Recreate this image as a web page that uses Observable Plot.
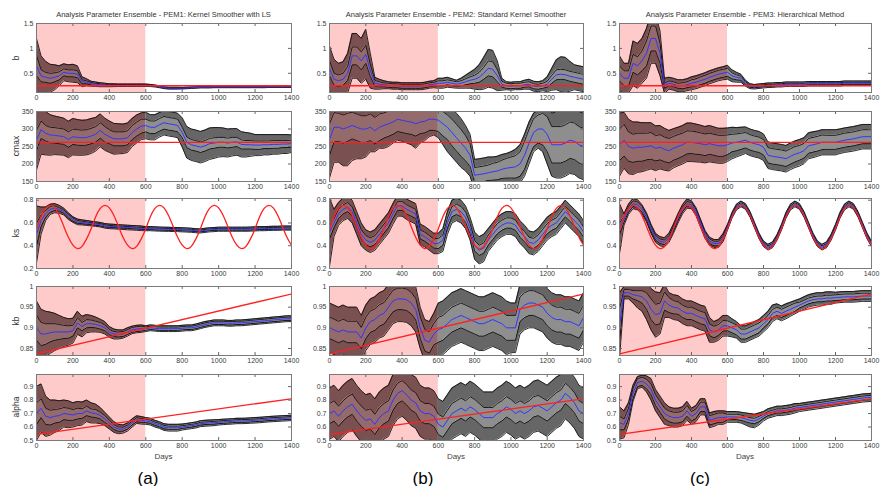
<!DOCTYPE html>
<html><head><meta charset="utf-8">
<script src="https://cdn.jsdelivr.net/npm/d3@7"></script>
<script src="https://cdn.jsdelivr.net/npm/@observablehq/plot@0.6"></script>
<style>
body{margin:0;background:#fff;}
#fig{position:relative;width:880px;height:486px;overflow:hidden;font-family:"Liberation Sans",Arial,sans-serif;}
.t{position:absolute;white-space:nowrap;line-height:1;}
.p{position:absolute;}
</style></head><body><div id="fig"></div>
<script>
// ---------- shared x grid (days) ----------
const days = [0,25,50,75,100,125,150,175,200,225,250,275,300,325,350,375,400,425,450,475,500,525,550,575,600,625,650,675,700,725,750,775,800,825,850,875,900,925,950,975,1000,1025,1050,1075,1100,1125,1150,1175,1200,1225,1250,1275,1300,1325,1350,1375,1400];
const xTicks = [0,200,400,600,800,1000,1200,1400];
const trainWindow = [0, 600];

// ---------- truth (red) ----------
const lineDays = [0, 1400];
const b_truth = [0.25, 0.25];
const cmax_truth = [262, 262];
const kb_truth = [0.837, 0.982];
const alpha_truth = [0.545, 0.81];
const ks_truth = [0.55,0.655,0.728,0.755,0.733,0.665,0.57,0.475,
 0.405,0.375,0.395,0.46,0.55,0.655,0.728,0.755,
 0.733,0.665,0.57,0.475,0.405,0.375,0.395,0.46,
 0.55,0.655,0.728,0.755,0.733,0.665,0.57,0.475,
 0.405,0.375,0.395,0.46,0.55,0.655,0.728,0.755,
 0.733,0.665,0.57,0.475,0.405,0.375,0.395,0.46,
 0.55,0.655,0.728,0.755,0.733,0.665,0.57,0.475,
 0.405];

// ---------- PEM1 ----------
const pem1_b_mean = [0.65,0.45,0.42,0.40,0.42,0.45,0.52,0.50,
 0.50,0.48,0.33,0.32,0.29,0.28,0.27,0.265,
 0.26,0.26,0.26,0.26,0.26,0.26,0.26,0.26,
 0.26,0.255,0.245,0.23,0.21,0.20,0.20,0.20,
 0.20,0.205,0.21,0.215,0.22,0.22,0.22,0.225,
 0.225,0.225,0.225,0.225,0.225,0.225,0.225,0.225,
 0.225,0.225,0.225,0.23,0.23,0.23,0.23,0.23,
 0.23];
const pem1_b_inner = [0.20,0.12,0.10,0.10,0.09,0.08,0.07,0.07,
 0.07,0.07,0.04,0.03,0.025,0.02,0.02,0.015,
 0.012,0.012,0.012,0.012,0.012,0.012,0.012,0.012,
 0.01,0.01,0.008,0.008,0.008,0.008,0.008,0.008,
 0.006,0.006,0.006,0.006,0.006,0.006,0.006,0.006,
 0.006,0.006,0.006,0.006,0.006,0.006,0.006,0.006,
 0.006,0.006,0.006,0.006,0.006,0.006,0.006,0.006,
 0.006];
const pem1_b_outer = [0.55,0.40,0.32,0.28,0.25,0.20,0.17,0.17,
 0.18,0.17,0.10,0.07,0.05,0.045,0.04,0.035,
 0.03,0.028,0.025,0.025,0.025,0.025,0.025,0.025,
 0.025,0.022,0.02,0.02,0.018,0.018,0.018,0.018,
 0.015,0.015,0.015,0.015,0.015,0.015,0.015,0.015,
 0.015,0.015,0.015,0.015,0.015,0.015,0.015,0.015,
 0.015,0.015,0.015,0.015,0.015,0.015,0.015,0.015,
 0.015];

const pem1_cmax_mean = [268,298,288,283,282,280,278,270,
 278,276,275,276,280,285,296,285,
 278,272,272,272,275,290,300,308,
 310,305,305,312,318,315,313,310,
 290,262,255,252,248,252,258,260,
 262,262,260,262,263,256,255,255,
 254,254,255,255,256,256,257,257,
 258];
const pem1_cmax_inner = [28,25,22,22,22,22,22,22,
 22,22,22,22,22,22,22,22,
 20,20,20,20,20,20,20,20,
 18,18,18,18,18,18,18,18,
 15,15,15,15,15,15,15,15,
 14,14,14,14,13,13,12,12,
 12,12,11,11,11,11,10,10,
 10];
const pem1_cmax_outer = [85,70,62,58,55,54,53,52,
 52,51,50,50,50,48,47,46,
 45,44,43,42,42,40,40,38,
 38,36,36,35,35,35,35,35,
 42,45,45,45,45,45,45,44,
 42,41,40,39,38,36,35,33,
 30,30,29,29,28,28,27,27,
 25];

const pem1_ks_mean = [0.50,0.62,0.68,0.72,0.73,0.72,0.70,0.66,
 0.63,0.61,0.605,0.60,0.595,0.59,0.585,0.575,
 0.57,0.568,0.565,0.563,0.56,0.558,0.556,0.553,
 0.55,0.55,0.548,0.546,0.545,0.544,0.543,0.542,
 0.54,0.538,0.536,0.532,0.53,0.535,0.54,0.542,
 0.545,0.545,0.545,0.545,0.545,0.545,0.545,0.546,
 0.548,0.55,0.55,0.552,0.553,0.553,0.555,0.555,
 0.555];
const pem1_ks_inner = [0.10,0.05,0.03,0.025,0.02,0.015,0.015,0.015,
 0.015,0.012,0.012,0.01,0.01,0.01,0.01,0.01,
 0.008,0.008,0.008,0.008,0.008,0.008,0.008,0.008,
 0.008,0.008,0.008,0.008,0.008,0.008,0.008,0.008,
 0.008,0.008,0.008,0.008,0.008,0.008,0.008,0.008,
 0.008,0.008,0.008,0.008,0.008,0.008,0.008,0.008,
 0.008,0.008,0.008,0.008,0.008,0.008,0.008,0.008,
 0.008];
const pem1_ks_outer = [0.25,0.12,0.06,0.045,0.04,0.035,0.03,0.03,
 0.025,0.025,0.022,0.022,0.02,0.02,0.02,0.02,
 0.02,0.02,0.02,0.02,0.02,0.02,0.02,0.02,
 0.018,0.018,0.018,0.018,0.018,0.018,0.018,0.018,
 0.018,0.018,0.018,0.018,0.018,0.018,0.018,0.018,
 0.018,0.018,0.018,0.018,0.018,0.018,0.018,0.018,
 0.018,0.018,0.018,0.018,0.018,0.018,0.018,0.018,
 0.018];

const pem1_kb_mean = [0.90,0.885,0.885,0.888,0.89,0.89,0.89,0.89,
 0.893,0.912,0.903,0.91,0.91,0.908,0.905,0.90,
 0.89,0.885,0.884,0.885,0.89,0.895,0.897,0.898,
 0.898,0.90,0.899,0.898,0.898,0.898,0.898,0.898,
 0.899,0.90,0.90,0.902,0.905,0.908,0.91,0.912,
 0.912,0.912,0.911,0.911,0.912,0.912,0.913,0.914,
 0.915,0.916,0.917,0.918,0.919,0.92,0.921,0.922,
 0.922];
const pem1_kb_inner = [0.03,0.028,0.025,0.022,0.02,0.018,0.016,0.015,
 0.013,0.012,0.01,0.01,0.009,0.008,0.008,0.007,
 0.006,0.006,0.006,0.006,0.006,0.006,0.006,0.006,
 0.004,0.004,0.004,0.004,0.004,0.004,0.004,0.004,
 0.004,0.004,0.004,0.004,0.004,0.004,0.004,0.004,
 0.004,0.004,0.004,0.004,0.004,0.004,0.004,0.004,
 0.004,0.004,0.004,0.004,0.004,0.004,0.004,0.004,
 0.004];
const pem1_kb_outer = [0.065,0.06,0.055,0.05,0.045,0.04,0.035,0.032,
 0.03,0.028,0.025,0.022,0.02,0.018,0.016,0.015,
 0.013,0.012,0.011,0.01,0.01,0.009,0.009,0.009,
 0.007,0.007,0.007,0.007,0.007,0.007,0.007,0.007,
 0.007,0.007,0.007,0.007,0.007,0.007,0.007,0.007,
 0.007,0.007,0.007,0.007,0.007,0.007,0.007,0.007,
 0.007,0.007,0.007,0.007,0.007,0.007,0.007,0.007,
 0.007];

const pem1_alpha_mean = [0.70,0.74,0.68,0.67,0.68,0.685,0.70,0.695,
 0.69,0.70,0.70,0.72,0.705,0.70,0.685,0.66,
 0.63,0.60,0.585,0.585,0.60,0.63,0.655,0.65,
 0.645,0.64,0.625,0.615,0.60,0.595,0.595,0.595,
 0.60,0.605,0.61,0.615,0.625,0.628,0.63,0.632,
 0.635,0.638,0.64,0.642,0.645,0.645,0.646,0.648,
 0.65,0.652,0.655,0.658,0.66,0.662,0.664,0.666,
 0.668];
const pem1_alpha_inner = [0.08,0.07,0.06,0.055,0.05,0.05,0.045,0.045,
 0.04,0.04,0.035,0.035,0.03,0.03,0.025,0.025,
 0.02,0.018,0.016,0.015,0.015,0.015,0.015,0.015,
 0.012,0.012,0.012,0.012,0.012,0.012,0.012,0.012,
 0.01,0.01,0.01,0.01,0.01,0.01,0.01,0.01,
 0.01,0.01,0.01,0.01,0.01,0.01,0.01,0.01,
 0.01,0.01,0.01,0.01,0.01,0.01,0.01,0.01,
 0.01];
const pem1_alpha_outer = [0.20,0.18,0.15,0.13,0.12,0.11,0.10,0.10,
 0.09,0.09,0.085,0.08,0.075,0.07,0.06,0.05,
 0.045,0.04,0.035,0.03,0.03,0.03,0.028,0.028,
 0.025,0.025,0.025,0.025,0.025,0.025,0.025,0.025,
 0.022,0.022,0.022,0.022,0.022,0.022,0.022,0.022,
 0.02,0.02,0.02,0.02,0.02,0.02,0.02,0.02,
 0.02,0.02,0.02,0.02,0.02,0.02,0.02,0.02,
 0.02];

// ---------- PEM2 ----------
const pem2_b_mean = [0.60,0.38,0.35,0.38,0.50,0.85,0.85,0.75,
 0.88,0.55,0.30,0.28,0.27,0.26,0.25,0.25,
 0.24,0.24,0.24,0.24,0.24,0.25,0.27,0.28,
 0.30,0.30,0.32,0.30,0.28,0.30,0.33,0.36,
 0.38,0.42,0.50,0.60,0.58,0.45,0.28,0.25,
 0.24,0.25,0.25,0.27,0.28,0.24,0.23,0.25,
 0.28,0.38,0.47,0.48,0.47,0.44,0.42,0.40,
 0.38];
const pem2_b_inner = [0.15,0.12,0.12,0.12,0.14,0.18,0.18,0.18,
 0.18,0.12,0.06,0.05,0.04,0.04,0.04,0.04,
 0.04,0.04,0.04,0.04,0.04,0.04,0.04,0.04,
 0.05,0.05,0.05,0.05,0.05,0.05,0.06,0.07,
 0.08,0.10,0.12,0.15,0.15,0.12,0.06,0.05,
 0.05,0.05,0.05,0.05,0.05,0.05,0.05,0.05,
 0.06,0.08,0.10,0.10,0.10,0.10,0.10,0.10,
 0.10];
const pem2_b_outer = [0.45,0.40,0.35,0.35,0.40,0.45,0.45,0.45,
 0.50,0.35,0.12,0.10,0.08,0.07,0.07,0.07,
 0.07,0.07,0.07,0.07,0.07,0.07,0.07,0.07,
 0.10,0.10,0.10,0.09,0.08,0.10,0.13,0.16,
 0.20,0.25,0.32,0.38,0.38,0.30,0.12,0.08,
 0.08,0.08,0.08,0.09,0.10,0.10,0.10,0.10,
 0.15,0.22,0.30,0.35,0.35,0.30,0.25,0.25,
 0.25];

const pem2_cmax_mean = [270,305,305,300,305,310,305,300,
 300,305,295,305,310,315,320,328,
 325,322,320,315,320,322,328,328,
 325,315,305,290,275,260,245,225,
 168,170,172,175,178,180,185,188,
 190,192,200,225,260,290,300,300,
 285,255,255,255,260,268,265,255,
 250];
const pem2_cmax_inner = [45,42,40,40,40,38,38,38,
 38,38,38,38,36,36,35,35,
 35,35,35,35,33,33,32,32,
 32,35,35,38,38,38,36,32,
 22,22,22,22,24,25,26,28,
 30,32,35,40,40,40,40,45,
 50,52,52,52,52,52,52,52,
 52];
const pem2_cmax_outer = [110,100,100,105,110,100,90,85,
 80,70,60,60,65,65,60,60,
 60,62,65,70,60,55,50,45,
 50,60,70,70,70,70,65,60,
 45,45,45,45,42,42,42,42,
 45,50,55,60,60,55,55,65,
 85,90,95,95,95,95,95,95,
 95];

const pem2_ks_mean = [0.52,0.60,0.68,0.72,0.74,0.70,0.60,0.50,
 0.45,0.43,0.45,0.50,0.55,0.60,0.68,0.75,
 0.75,0.72,0.70,0.68,0.50,0.48,0.45,0.42,
 0.42,0.45,0.60,0.70,0.72,0.70,0.65,0.55,
 0.40,0.36,0.38,0.45,0.50,0.55,0.58,0.60,
 0.60,0.58,0.52,0.48,0.43,0.42,0.45,0.50,
 0.55,0.58,0.60,0.65,0.70,0.66,0.62,0.58,
 0.52];
const pem2_ks_inner = [0.06,0.04,0.04,0.04,0.04,0.04,0.04,0.04,
 0.04,0.04,0.04,0.04,0.04,0.04,0.04,0.04,
 0.04,0.04,0.04,0.04,0.04,0.04,0.04,0.04,
 0.045,0.045,0.045,0.045,0.045,0.045,0.045,0.045,
 0.045,0.045,0.045,0.045,0.045,0.045,0.045,0.045,
 0.045,0.045,0.045,0.045,0.045,0.045,0.045,0.045,
 0.045,0.045,0.045,0.045,0.045,0.045,0.045,0.045,
 0.045];
const pem2_ks_outer = [0.30,0.12,0.10,0.10,0.10,0.10,0.10,0.10,
 0.09,0.09,0.09,0.09,0.09,0.09,0.09,0.09,
 0.09,0.09,0.09,0.09,0.09,0.09,0.09,0.09,
 0.09,0.10,0.10,0.10,0.10,0.10,0.10,0.10,
 0.12,0.12,0.12,0.10,0.10,0.10,0.10,0.10,
 0.10,0.10,0.10,0.10,0.10,0.10,0.10,0.10,
 0.10,0.10,0.10,0.10,0.10,0.10,0.10,0.10,
 0.10];

const pem2_kb_mean = [0.90,0.895,0.89,0.895,0.89,0.89,0.89,0.875,
 0.90,0.915,0.92,0.93,0.935,0.95,0.965,0.97,
 0.97,0.968,0.96,0.945,0.90,0.87,0.865,0.885,
 0.895,0.90,0.91,0.92,0.925,0.93,0.925,0.92,
 0.915,0.91,0.91,0.915,0.92,0.915,0.91,0.90,
 0.90,0.90,0.945,0.955,0.96,0.96,0.955,0.95,
 0.935,0.925,0.92,0.92,0.915,0.915,0.91,0.905,
 0.925];
const pem2_kb_inner = [0.026,0.026,0.026,0.026,0.026,0.026,0.026,0.026,
 0.026,0.026,0.026,0.026,0.026,0.026,0.026,0.026,
 0.026,0.026,0.026,0.026,0.026,0.026,0.026,0.026,
 0.03,0.03,0.03,0.03,0.03,0.03,0.03,0.03,
 0.03,0.03,0.03,0.03,0.03,0.03,0.03,0.03,
 0.03,0.03,0.03,0.03,0.03,0.03,0.03,0.03,
 0.03,0.03,0.03,0.03,0.03,0.03,0.03,0.03,
 0.03];
const pem2_kb_outer = [0.06,0.06,0.06,0.06,0.06,0.06,0.06,0.055,
 0.055,0.055,0.055,0.055,0.055,0.055,0.055,0.055,
 0.055,0.055,0.055,0.055,0.05,0.05,0.05,0.05,
 0.065,0.065,0.065,0.065,0.065,0.065,0.065,0.065,
 0.065,0.065,0.065,0.065,0.065,0.065,0.065,0.065,
 0.06,0.06,0.06,0.06,0.06,0.06,0.06,0.06,
 0.06,0.06,0.06,0.06,0.06,0.06,0.06,0.06,
 0.06];

const pem2_alpha_mean = [0.70,0.72,0.68,0.72,0.75,0.77,0.72,0.68,
 0.65,0.66,0.62,0.67,0.70,0.72,0.80,0.85,
 0.87,0.84,0.80,0.78,0.72,0.70,0.70,0.68,
 0.62,0.60,0.65,0.70,0.72,0.74,0.72,0.75,
 0.73,0.70,0.67,0.67,0.67,0.70,0.72,0.75,
 0.73,0.70,0.72,0.70,0.72,0.75,0.76,0.74,
 0.72,0.75,0.78,0.80,0.85,0.82,0.78,0.72,
 0.70];
const pem2_alpha_inner = [0.075,0.075,0.075,0.075,0.075,0.075,0.075,0.075,
 0.075,0.075,0.075,0.075,0.075,0.075,0.075,0.075,
 0.075,0.075,0.075,0.075,0.075,0.075,0.075,0.075,
 0.075,0.075,0.075,0.075,0.075,0.075,0.075,0.075,
 0.075,0.075,0.075,0.075,0.075,0.075,0.075,0.075,
 0.075,0.075,0.075,0.075,0.075,0.075,0.075,0.075,
 0.075,0.075,0.075,0.075,0.075,0.075,0.075,0.075,
 0.075];
const pem2_alpha_outer = [0.19,0.19,0.19,0.19,0.19,0.19,0.19,0.19,
 0.19,0.19,0.19,0.19,0.19,0.19,0.19,0.19,
 0.19,0.19,0.19,0.19,0.19,0.19,0.19,0.19,
 0.19,0.19,0.19,0.19,0.19,0.19,0.19,0.19,
 0.19,0.19,0.19,0.19,0.19,0.19,0.19,0.19,
 0.19,0.19,0.19,0.19,0.19,0.19,0.19,0.19,
 0.19,0.19,0.19,0.19,0.19,0.19,0.19,0.19,
 0.19];

// ---------- PEM3 ----------
const pem3_b_mean = [0.50,0.40,0.40,0.70,0.65,0.75,0.90,1.20,
 1.20,0.90,0.25,0.30,0.28,0.25,0.25,0.27,
 0.30,0.32,0.35,0.38,0.42,0.45,0.48,0.50,
 0.52,0.45,0.42,0.40,0.30,0.24,0.23,0.24,
 0.25,0.26,0.26,0.27,0.27,0.28,0.28,0.28,
 0.28,0.28,0.29,0.29,0.29,0.29,0.29,0.29,
 0.29,0.29,0.30,0.30,0.30,0.30,0.30,0.30,
 0.30];
const pem3_b_inner = [0.15,0.15,0.15,0.18,0.18,0.20,0.25,0.25,
 0.25,0.20,0.05,0.05,0.05,0.05,0.06,0.06,
 0.07,0.07,0.08,0.08,0.08,0.08,0.08,0.08,
 0.08,0.06,0.05,0.04,0.03,0.02,0.02,0.02,
 0.02,0.02,0.02,0.02,0.02,0.02,0.02,0.02,
 0.02,0.02,0.02,0.02,0.02,0.02,0.02,0.02,
 0.02,0.02,0.02,0.02,0.02,0.02,0.02,0.02,
 0.02];
const pem3_b_outer = [0.35,0.30,0.30,0.45,0.45,0.45,0.50,0.50,
 0.50,0.45,0.15,0.12,0.12,0.12,0.12,0.12,
 0.13,0.13,0.13,0.13,0.13,0.13,0.13,0.13,
 0.14,0.12,0.10,0.08,0.06,0.05,0.045,0.045,
 0.045,0.045,0.045,0.045,0.045,0.045,0.045,0.045,
 0.045,0.045,0.045,0.045,0.045,0.045,0.045,0.045,
 0.045,0.045,0.045,0.045,0.045,0.045,0.045,0.045,
 0.045];

const pem3_cmax_mean = [255,268,250,245,248,248,250,252,
 245,248,242,238,245,250,255,262,
 262,260,258,255,258,255,252,252,
 255,260,262,265,268,262,258,255,
 248,225,222,220,218,215,222,228,
 232,238,252,255,258,262,262,262,
 262,265,268,270,272,275,278,278,
 278];
const pem3_cmax_inner = [45,45,42,40,40,40,38,38,
 36,36,35,35,34,34,33,33,
 32,32,31,31,30,30,30,30,
 28,25,24,23,22,22,22,22,
 22,22,22,22,22,22,22,22,
 21,21,21,21,21,21,20,20,
 20,20,20,20,20,20,20,20,
 20];
const pem3_cmax_outer = [90,80,78,75,72,70,68,66,
 64,62,60,58,56,55,55,55,
 55,54,53,52,52,51,50,50,
 48,45,42,40,38,38,38,38,
 38,38,38,38,38,38,38,38,
 38,37,37,37,36,36,36,36,
 36,35,35,35,35,35,35,35,
 35];

const pem3_ks_mean = [0.55,0.63,0.72,0.77,0.76,0.72,0.65,0.55,
 0.47,0.44,0.43,0.47,0.55,0.64,0.72,0.77,
 0.76,0.70,0.60,0.50,0.44,0.42,0.42,0.47,
 0.562,0.667,0.74,0.767,0.745,0.677,0.582,0.487,
 0.417,0.387,0.407,0.472,0.562,0.667,0.74,0.767,
 0.745,0.677,0.582,0.487,0.417,0.387,0.407,0.472,
 0.562,0.667,0.74,0.767,0.745,0.677,0.582,0.487,
 0.417];
const pem3_ks_inner = [0.05,0.025,0.025,0.025,0.025,0.025,0.025,0.025,
 0.02,0.02,0.02,0.02,0.02,0.02,0.02,0.02,
 0.02,0.02,0.02,0.02,0.02,0.02,0.02,0.02,
 0.012,0.012,0.012,0.012,0.012,0.012,0.012,0.012,
 0.012,0.012,0.012,0.012,0.012,0.012,0.012,0.012,
 0.012,0.012,0.012,0.012,0.012,0.012,0.012,0.012,
 0.012,0.012,0.012,0.012,0.012,0.012,0.012,0.012,
 0.012];
const pem3_ks_outer = [0.22,0.05,0.045,0.045,0.045,0.04,0.04,0.04,
 0.04,0.04,0.04,0.04,0.04,0.04,0.04,0.04,
 0.035,0.035,0.035,0.035,0.035,0.035,0.035,0.035,
 0.025,0.025,0.025,0.025,0.025,0.025,0.025,0.025,
 0.025,0.025,0.025,0.025,0.025,0.025,0.025,0.025,
 0.025,0.025,0.025,0.025,0.025,0.025,0.025,0.025,
 0.025,0.025,0.025,0.025,0.025,0.025,0.025,0.025,
 0.025];

const pem3_kb_mean = [0.905,0.985,0.985,0.98,0.978,0.975,0.965,0.945,
 0.932,0.935,0.965,0.955,0.95,0.948,0.94,0.935,
 0.935,0.93,0.925,0.922,0.895,0.89,0.895,0.905,
 0.905,0.90,0.895,0.885,0.885,0.89,0.895,0.90,
 0.91,0.92,0.935,0.94,0.935,0.94,0.945,0.95,
 0.955,0.96,0.965,0.968,0.97,0.97,0.972,0.972,
 0.973,0.974,0.975,0.975,0.975,0.976,0.977,0.977,
 0.977];
const pem3_kb_inner = [0.04,0.008,0.008,0.01,0.012,0.015,0.02,0.025,
 0.025,0.025,0.022,0.018,0.016,0.015,0.015,0.015,
 0.015,0.015,0.015,0.015,0.014,0.014,0.013,0.013,
 0.012,0.012,0.012,0.012,0.012,0.012,0.012,0.012,
 0.01,0.01,0.01,0.01,0.01,0.01,0.01,0.01,
 0.007,0.007,0.007,0.007,0.007,0.007,0.007,0.007,
 0.007,0.007,0.007,0.007,0.007,0.007,0.007,0.007,
 0.007];
const pem3_kb_outer = [0.08,0.015,0.015,0.02,0.03,0.035,0.045,0.05,
 0.055,0.05,0.04,0.03,0.03,0.03,0.03,0.03,
 0.03,0.03,0.03,0.03,0.03,0.025,0.025,0.025,
 0.025,0.022,0.02,0.02,0.02,0.02,0.02,0.02,
 0.02,0.02,0.02,0.018,0.018,0.018,0.017,0.016,
 0.015,0.015,0.015,0.015,0.015,0.015,0.015,0.015,
 0.013,0.013,0.013,0.013,0.013,0.013,0.013,0.013,
 0.013];

const pem3_alpha_mean = [0.63,0.62,0.70,0.85,0.93,0.94,0.92,0.88,
 0.80,0.75,0.70,0.68,0.67,0.67,0.68,0.72,
 0.68,0.70,0.75,0.75,0.65,0.66,0.67,0.67,
 0.675,0.675,0.675,0.67,0.66,0.65,0.645,0.66,
 0.68,0.70,0.71,0.72,0.72,0.725,0.73,0.74,
 0.745,0.75,0.755,0.76,0.765,0.77,0.775,0.78,
 0.785,0.79,0.795,0.80,0.805,0.81,0.815,0.818,
 0.82];
const pem3_alpha_inner = [0.05,0.04,0.04,0.04,0.03,0.03,0.035,0.04,
 0.04,0.04,0.04,0.04,0.04,0.04,0.04,0.04,
 0.035,0.035,0.035,0.035,0.035,0.035,0.035,0.035,
 0.02,0.02,0.02,0.02,0.02,0.02,0.02,0.02,
 0.015,0.015,0.015,0.015,0.015,0.015,0.015,0.015,
 0.015,0.015,0.015,0.015,0.015,0.015,0.015,0.015,
 0.015,0.015,0.015,0.015,0.015,0.015,0.015,0.015,
 0.015];
const pem3_alpha_outer = [0.12,0.10,0.08,0.06,0.045,0.045,0.06,0.08,
 0.08,0.08,0.08,0.07,0.07,0.07,0.07,0.07,
 0.06,0.06,0.06,0.06,0.055,0.055,0.05,0.05,
 0.04,0.04,0.04,0.04,0.045,0.05,0.05,0.045,
 0.035,0.035,0.035,0.035,0.035,0.035,0.035,0.035,
 0.03,0.03,0.03,0.03,0.03,0.03,0.03,0.03,
 0.03,0.03,0.03,0.03,0.03,0.03,0.03,0.03,
 0.03];

// ---------- rows (parameters) ----------
const paramNames = ["b", "cmax", "ks", "kb", "alpha"];
const b_domain = [0.114, 1.5],   b_ticks = [0.5, 1, 1.5];
const cmax_domain = [150, 350],  cmax_ticks = [150, 200, 250, 300, 350];
const ks_domain = [0.2, 0.815],  ks_ticks = [0.2, 0.4, 0.6, 0.8];
const kb_domain = [0.833, 1],    kb_ticks = [0.85, 0.9, 0.95, 1];
const alpha_domain = [0.5, 0.99],alpha_ticks = [0.5, 0.6, 0.7, 0.8, 0.9];
const titles = ["Analysis Parameter Ensemble - PEM1: Kernel Smoother with LS",
  "Analysis Parameter Ensemble - PEM2: Standard Kernel Smoother",
  "Analysis Parameter Ensemble - PEM3: Hierarchical Method"];
const subLabels = ["(a)", "(b)", "(c)"];

// ---------- layout ----------
const colLeft = [36, 329, 619];
const colW = [255, 254, 252];
const rowTop = [23, 111, 198, 286, 374];
const rowH = [69, 70, 70, 69, 66];
const subLabelX = [148, 423, 700];

// colours: [outer, inner] inside the pink training window and outside it
const bandIn = ["#7a5050", "#956a6a"];
const bandOut = ["#666666", "#8e8e8e"];

const rowSpec = [
  {domain: b_domain, ticks: b_ticks, truthX: lineDays, truthY: b_truth},
  {domain: cmax_domain, ticks: cmax_ticks, truthX: lineDays, truthY: cmax_truth},
  {domain: ks_domain, ticks: ks_ticks, truthX: days, truthY: ks_truth},
  {domain: kb_domain, ticks: kb_ticks, truthX: lineDays, truthY: kb_truth},
  {domain: alpha_domain, ticks: alpha_ticks, truthX: lineDays, truthY: alpha_truth}
];
const series = [
  [[pem1_b_mean,pem1_b_inner,pem1_b_outer],[pem1_cmax_mean,pem1_cmax_inner,pem1_cmax_outer],[pem1_ks_mean,pem1_ks_inner,pem1_ks_outer],[pem1_kb_mean,pem1_kb_inner,pem1_kb_outer],[pem1_alpha_mean,pem1_alpha_inner,pem1_alpha_outer]],
  [[pem2_b_mean,pem2_b_inner,pem2_b_outer],[pem2_cmax_mean,pem2_cmax_inner,pem2_cmax_outer],[pem2_ks_mean,pem2_ks_inner,pem2_ks_outer],[pem2_kb_mean,pem2_kb_inner,pem2_kb_outer],[pem2_alpha_mean,pem2_alpha_inner,pem2_alpha_outer]],
  [[pem3_b_mean,pem3_b_inner,pem3_b_outer],[pem3_cmax_mean,pem3_cmax_inner,pem3_cmax_outer],[pem3_ks_mean,pem3_ks_inner,pem3_ks_outer],[pem3_kb_mean,pem3_kb_inner,pem3_kb_outer],[pem3_alpha_mean,pem3_alpha_inner,pem3_alpha_outer]]
];

const fig = document.getElementById("fig");
const FONT = '"Liberation Sans", Arial, sans-serif';
function addText(txt, x, y, size, rotate, color) {
  const d = document.createElement("div");
  d.className = "t";
  d.textContent = txt;
  d.style.left = x + "px"; d.style.top = y + "px";
  d.style.fontSize = size + "px";
  d.style.color = color || "#333";
  d.style.transform = "translate(-50%,-50%)" + (rotate ? " rotate(-90deg)" : "");
  fig.appendChild(d);
}

function bandMarks(part, cols) {
  return [
    Plot.areaY(part, {x: "d", y1: "ol", y2: "il", fill: cols[0], clip: true}),
    Plot.areaY(part, {x: "d", y1: "ih", y2: "oh", fill: cols[0], clip: true}),
    Plot.areaY(part, {x: "d", y1: "il", y2: "ih", fill: cols[1], clip: true})
  ];
}

const ml = 30, mr = 4, mt = 2, mb = 14;
const fmt = d => String(d);

for (let c = 0; c < 3; c++) {
  const W = colW[c];
  for (let r = 0; r < 5; r++) {
    const spec = rowSpec[r];
    const [mean, inner, outer] = series[c][r];
    const data = days.map((d, i) => ({
      d, m: mean[i],
      il: mean[i] - inner[i], ih: mean[i] + inner[i],
      ol: mean[i] - outer[i], oh: mean[i] + outer[i]
    }));
    const inPart = data.filter(p => p.d <= trainWindow[1]);
    const outPart = data.filter(p => p.d >= trainWindow[1]);
    const truth = spec.truthX.map((d, i) => ({d, v: spec.truthY[i]}));
    const H = rowH[r];
    const chart = Plot.plot({
      width: W + ml + mr, height: H + mt + mb,
      marginLeft: ml, marginRight: mr, marginTop: mt, marginBottom: mb,
      style: {fontSize: "7px", fontFamily: FONT, color: "#3a3a3a", background: "transparent", overflow: "visible"},
      x: {domain: [days[0], days[days.length - 1]]},
      y: {domain: spec.domain},
      marks: [
        Plot.rect([{x1: trainWindow[0], x2: trainWindow[1]}], {x1: "x1", x2: "x2", fill: "#ffcaca"}),
        ...bandMarks(inPart, bandIn),
        ...bandMarks(outPart, bandOut),
        Plot.lineY(data, {x: "d", y: "ol", stroke: "#111", strokeWidth: 0.9, clip: true}),
        Plot.lineY(data, {x: "d", y: "oh", stroke: "#111", strokeWidth: 0.9, clip: true}),
        Plot.lineY(data, {x: "d", y: "il", stroke: "#111", strokeWidth: 0.9, clip: true}),
        Plot.lineY(data, {x: "d", y: "ih", stroke: "#111", strokeWidth: 0.9, clip: true}),
        Plot.lineY(data, {x: "d", y: "m", stroke: "#3434ff", strokeWidth: 1, clip: true}),
        Plot.lineY(truth, {x: "d", y: "v", stroke: "#ff2020", strokeWidth: 1.3, curve: "natural", clip: true}),
        Plot.gridX({ticks: xTicks, stroke: "#666", strokeOpacity: 1, insetTop: H - 3}),
        Plot.gridX({ticks: xTicks, stroke: "#666", strokeOpacity: 1, insetBottom: H - 3}),
        Plot.gridY({ticks: spec.ticks, stroke: "#666", strokeOpacity: 1, insetRight: W - 3}),
        Plot.gridY({ticks: spec.ticks, stroke: "#666", strokeOpacity: 1, insetLeft: W - 3}),
        Plot.frame({stroke: "#7a7a7a"}),
        Plot.axisX({ticks: xTicks, tickSize: 0, tickPadding: 3, tickFormat: fmt, label: null}),
        Plot.axisY({ticks: spec.ticks, tickSize: 0, tickPadding: 3, tickFormat: fmt, label: null})
      ]
    });
    const holder = document.createElement("div");
    holder.className = "p";
    holder.style.left = (colLeft[c] - ml) + "px";
    holder.style.top = (rowTop[r] - mt) + "px";
    holder.appendChild(chart);
    fig.appendChild(holder);
  }
  const cx = colLeft[c] + W / 2;
  addText(titles[c], cx, 15, 7.5, false, "#333");
  addText("Days", cx, 457, 8, false, "#444");
  addText(subLabels[c], subLabelX[c], 478, 17, false, "#000");
}
for (let r = 0; r < 5; r++) {
  addText(paramNames[r], 16, rowTop[r] + rowH[r] / 2, 8.5, true, "#333");
}
</script>
</body></html>
